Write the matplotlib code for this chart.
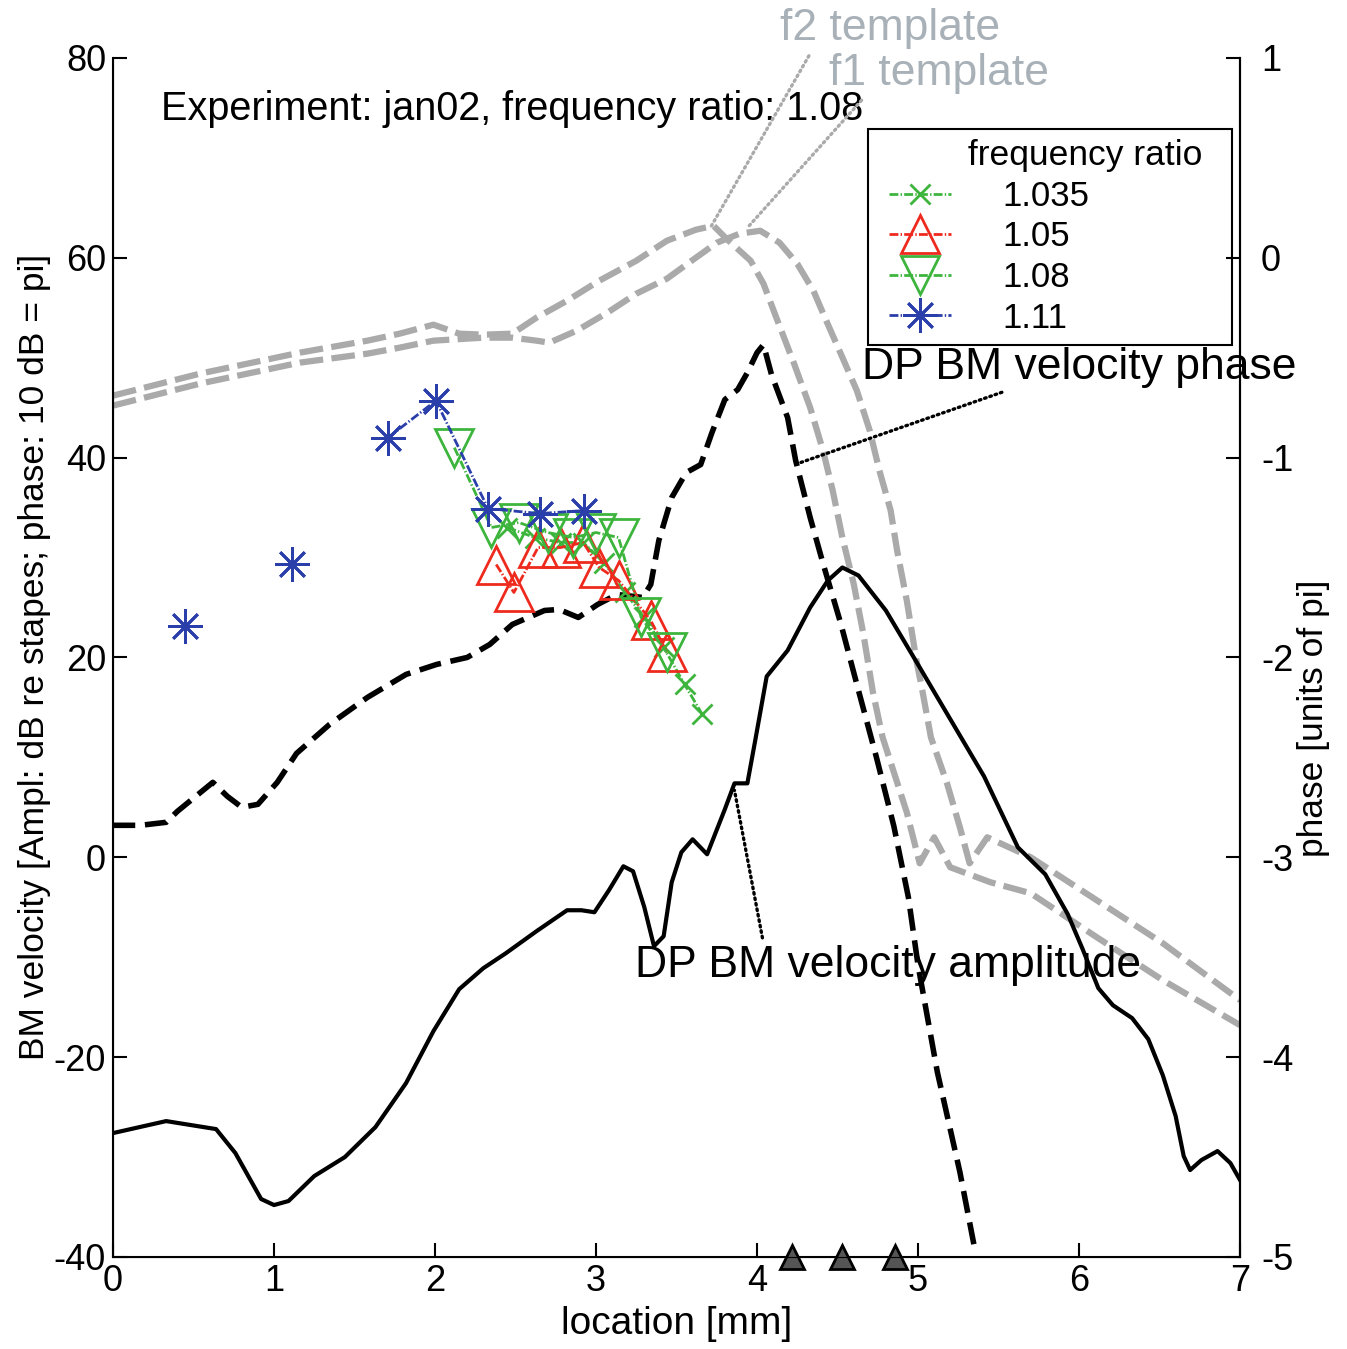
import numpy as np
import matplotlib
matplotlib.use("Agg")
import matplotlib.pyplot as plt
from matplotlib.lines import Line2D
from matplotlib.legend_handler import HandlerLine2D

plt.rcParams['font.family'] = ['Liberation Sans', 'DejaVu Sans']
plt.rcParams['lines.scale_dashes'] = False
plt.rcParams['axes.unicode_minus'] = False

# ---------------- data ----------------
amp_x = [0, 0.33, 0.64, 0.76, 0.92, 1.0, 1.09, 1.25, 1.44, 1.63, 1.82, 1.99, 2.15, 2.30, 2.44,
         2.63, 2.82, 2.91, 2.99, 3.08, 3.17, 3.23, 3.30, 3.36, 3.42, 3.47, 3.53, 3.60, 3.69,
         3.80, 3.86, 3.94, 3.99, 4.06, 4.19, 4.33, 4.44, 4.53, 4.63, 4.80, 4.97, 5.19, 5.41,
         5.62, 5.79, 5.93, 6.02, 6.12, 6.21, 6.33, 6.43, 6.52, 6.60, 6.65, 6.69, 6.76, 6.86,
         6.94, 7.0]
amp_y = [-27.6, -26.4, -27.2, -29.6, -34.2, -34.8, -34.4, -31.9, -30.0, -27.0, -22.6, -17.4,
         -13.2, -11.1, -9.6, -7.4, -5.3, -5.3, -5.5, -3.3, -0.9, -1.4, -5.0, -8.9, -7.9, -2.5,
         0.5, 1.8, 0.3, 4.8, 7.4, 7.4, 11.8, 18.1, 20.7, 25.0, 27.7, 29.0, 28.2, 24.7, 20.1,
         14.1, 8.1, 1.0, -1.7, -5.7, -9.1, -13.1, -14.8, -16.1, -18.2, -21.8, -25.9, -29.9,
         -31.3, -30.3, -29.4, -30.6, -32.3]

ph_x = [0.0, 0.17, 0.33, 0.40, 0.62, 0.71, 0.80, 0.90, 1.02, 1.14, 1.345, 1.58, 1.82, 2.01,
        2.20, 2.34, 2.48, 2.68, 2.77, 2.89, 3.01, 3.13, 3.29, 3.34, 3.39, 3.47, 3.56, 3.65,
        3.72, 3.80, 3.88, 3.94, 4.00, 4.04, 4.09, 4.19, 4.24, 4.33, 4.41, 4.52, 4.63, 4.74,
        4.85, 4.94, 5.00, 5.12, 5.26, 5.35]
ph_y = [3.2, 3.2, 3.5, 4.6, 7.5, 6.1, 5.0, 5.3, 7.5, 10.4, 13.3, 16.0, 18.3, 19.3, 20.0, 21.3,
        23.3, 24.7, 24.8, 24.0, 25.3, 26.3, 26.0, 27.3, 31.7, 36.0, 38.5, 39.3, 42.5, 45.8,
        46.8, 48.5, 50.5, 51.3, 48.3, 44.0, 39.7, 34.0, 29.4, 23.4, 16.7, 10.1, 3.1, -4.0,
        -10.8, -21.5, -31.5, -39.0]

f2_x = [0.0, 0.54, 1.16, 1.58, 1.78, 1.99, 2.15, 2.30, 2.48, 2.63, 2.82, 3.02, 3.25, 3.44,
        3.62, 3.73, 3.81, 3.96, 4.04, 4.12, 4.23, 4.33, 4.41, 4.47, 4.53, 4.60, 4.66, 4.72,
        4.78, 4.85, 4.93, 5.01, 5.10, 5.20, 5.45, 5.70, 6.11, 6.52, 7.0]
f2_y = [46.2, 48.4, 50.5, 51.7, 52.4, 53.3, 52.4, 52.3, 52.4, 54.0, 55.7, 57.7, 59.7, 61.7,
        62.8, 63.2, 61.9, 59.7, 57.4, 54.0, 49.4, 45.0, 40.7, 36.7, 32.0, 27.4, 22.4, 16.5,
        12.0, 8.5, 4.5, -0.6, 2.0, -1.0, -2.5, -3.6, -8.0, -12.3, -16.8]

f1_x = [0.0, 0.54, 1.16, 1.58, 1.78, 1.99, 2.30, 2.48, 2.63, 2.71, 2.88, 3.07, 3.25, 3.44,
        3.62, 3.75, 3.89, 4.02, 4.14, 4.25, 4.35, 4.43, 4.52, 4.62, 4.70, 4.76, 4.83, 4.87,
        4.93, 4.99, 5.03, 5.08, 5.18, 5.26, 5.32, 5.43, 5.70, 6.11, 6.52, 7.0]
f1_y = [45.2, 47.4, 49.5, 50.4, 51.0, 51.7, 52.0, 52.0, 51.7, 51.5, 52.7, 54.5, 56.4, 57.9,
        60.0, 61.5, 62.4, 62.7, 61.5, 59.4, 56.7, 53.7, 50.4, 46.7, 42.7, 38.7, 34.7, 30.7,
        25.7, 19.7, 16.4, 12.0, 7.4, 3.0, -0.6, 2.0, 0.0, -4.3, -8.6, -14.3]

r1035_x = [2.45, 2.62, 2.78, 2.92, 3.05, 3.18, 3.30, 3.42, 3.55, 3.66]
r1035_y = [33.0, 32.0, 31.5, 31.5, 29.5, 26.5, 24.0, 21.0, 17.3, 14.3]
r105_x = [2.38, 2.49, 2.64, 2.78, 2.92, 3.02, 3.14, 3.34, 3.44]
r105_y = [29.3, 26.5, 31.0, 31.0, 31.5, 29.0, 27.7, 23.7, 20.5]
r108_x = [2.12, 2.35, 2.52, 2.70, 2.86, 3.00, 3.14, 3.28, 3.44]
r108_y = [41.0, 33.0, 33.5, 32.5, 32.0, 32.5, 32.0, 24.0, 20.5]
r111_x = [0.447, np.nan, 1.112, np.nan, 1.708, 2.006, 2.329, 2.652, 2.925]
r111_y = [23.1, np.nan, 29.4, np.nan, 42.0, 45.7, 34.9, 34.4, 34.7]

stim_x = [4.22, 4.53, 4.86]
stim_y = [-40, -40, -40]

ratio_labels = ['1.035', '1.05', '1.08', '1.11']

# ---------------- figure ----------------
fig = plt.figure(figsize=(13.47, 13.49), dpi=100)
ax = fig.add_axes([0.0839, 0.0682, 0.8367, 0.8889])
ax.set_xlim(0, 7)
ax.set_ylim(-40, 80)

gray = '#aaaaaa'
green = '#3db53d'
red = '#ee2a1e'
blue = '#2b3faa'
txtgray = '#a9b1b8'

ax.plot(f2_x, f2_y, color=gray, lw=4.5, dashes=(17, 6), zorder=2)
ax.plot(f1_x, f1_y, color=gray, lw=4.5, dashes=(17, 6), zorder=2)
ax.plot(ph_x, ph_y, color='black', lw=4, dashes=(16, 7), zorder=3)
ax.plot(amp_x, amp_y, color='black', lw=3, zorder=3)

mk = dict(lw=2.0, ls='-.', mew=2.0, mfc='none', zorder=4)
h1, = ax.plot(r1035_x, r1035_y, color=green, marker='x', ms=15, **mk)
h2, = ax.plot(r105_x, r105_y, color=red, marker='^', ms=27, **mk)
h3, = ax.plot(r108_x, r108_y, color=green, marker='v', ms=27, **mk)
h4, = ax.plot(r111_x, r111_y, color=blue, marker=(8, 2, 0), ms=25, **mk)

ax.plot(stim_x, stim_y, ls='none', marker='^', ms=17, mfc='#555555', mec='black',
        mew=2, clip_on=False, zorder=6)

for s in ['left', 'bottom', 'right']:
    ax.spines[s].set_linewidth(1.5)
ax.spines['top'].set_visible(False)
ax.set_xticks(range(0, 8))
ax.set_yticks(range(-40, 81, 20))
ax.tick_params(direction='in', length=10, width=1.5, labelsize=26, pad=5,
               top=False, right=False)
ax.set_xlabel('location [mm]', fontsize=28, labelpad=5)
ax.set_ylabel('BM velocity [Ampl: dB re stapes; phase: 10 dB = pi]', fontsize=25.5,
              labelpad=2)

ax2 = ax.twinx()
ax2.set_ylim(-5, 1)
ax2.set_yticks(range(-5, 2))
ax2.spines['top'].set_visible(False)
ax2.spines['right'].set_linewidth(1.5)
ax2.tick_params(direction='in', length=10, width=1.5, labelsize=26, pad=15)
ax2.set_ylabel('phase [units of pi]', fontsize=25.5)
ax2.yaxis.set_label_coords(1.0506, 0.449)

ax.text(0.30, 74.9, 'Experiment: jan02, frequency ratio: 1.08', fontsize=28.5,
        ha='left', va='center', zorder=7)

ap = dict(arrowstyle='-', linestyle=(0, (1.2, 2.8)), lw=2.4, shrinkA=3, shrinkB=0,
          capstyle='round')
ax.annotate('f2 template', xy=(3.71, 63.0), xytext=(4.14, 82.9), fontsize=32,
            color=txtgray, ha='left', va='center', annotation_clip=False,
            arrowprops=dict(color=gray, relpos=(0.15, 0), **ap), zorder=7)
ax.annotate('f1 template', xy=(3.94, 63.0), xytext=(4.45, 78.4), fontsize=32,
            color=txtgray, ha='left', va='center', annotation_clip=False,
            arrowprops=dict(color=gray, relpos=(0.17, 0), **ap), zorder=7)
ax.annotate('DP BM velocity phase', xy=(4.27, 39.5), xytext=(4.65, 49.0), fontsize=32,
            ha='left', va='center', annotation_clip=False,
            arrowprops=dict(color='black', relpos=(0.35, 0), **ap), zorder=7)
ax.annotate('DP BM velocity amplitude', xy=(3.86, 6.7), xytext=(3.24, -10.8), fontsize=32,
            ha='left', va='center', annotation_clip=False,
            arrowprops=dict(color='black', relpos=(0.255, 1), **ap), zorder=7)

leg = ax.legend([h1, h2, h3, h4], ratio_labels, title='         frequency ratio  ',
                loc='upper left', bbox_to_anchor=(0.67, 0.941), fontsize=25,
                title_fontsize=25.5, alignment='left', frameon=True, fancybox=False,
                edgecolor='black', framealpha=1, handlelength=2.08, handletextpad=1.5,
                labelspacing=0.22, borderpad=0.3, borderaxespad=0,
                handler_map={Line2D: HandlerLine2D(xpad=0.29)})
leg.get_frame().set_linewidth(1.5)
leg.set_zorder(8)

fig.savefig('out.png', dpi=100)
